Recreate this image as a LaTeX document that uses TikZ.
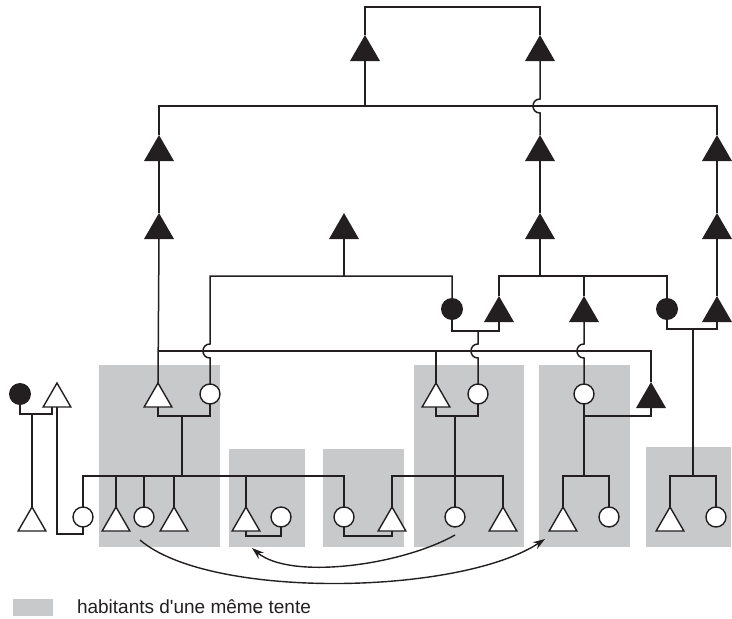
\documentclass[tikz,border=0pt]{standalone}
\usepackage{fontspec}
\setmainfont{Liberation Sans}[Ligatures=TeXOff]
\usetikzlibrary{shapes.geometric,arrows.meta}
\definecolor{tentgray}{RGB}{200,201,203}
\definecolor{ink}{RGB}{35,31,32}
\begin{document}
\begin{tikzpicture}[x=1pt,y=-1pt,line width=1.5pt,
  every node/.style={inner sep=0pt,outer sep=0pt},
  ftri/.style={regular polygon,regular polygon sides=3,minimum size=34.6pt,fill=ink,anchor=south},
  wtri/.style={regular polygon,regular polygon sides=3,minimum size=32pt,draw=ink,line width=1.4pt,fill=white,anchor=south},
  fcirc/.style={circle,minimum size=22pt,fill=ink},
  wcirc/.style={circle,minimum size=20pt,draw=ink,line width=1.4pt,fill=white},
  tent/.style={fill=tentgray,draw=none},
  link/.style={draw=ink,line width=1.5pt},
  kin/.style={draw=ink,line width=1.4pt,-{Stealth[length=12pt,width=8pt]}}]
\useasboundingbox (0,0) rectangle (732,619);
% tents
\fill[tent] (99,365) rectangle (220,547);
\fill[tent] (229,449) rectangle (305,547);
\fill[tent] (323,449) rectangle (404,547);
\fill[tent] (414,365) rectangle (524,547);
\fill[tent] (539,365) rectangle (630,547);
\fill[tent] (646,447) rectangle (731,547);
% levels
\coordinate (y7) at (0,7);
\coordinate (y106) at (0,106);
\coordinate (y276) at (0,276);
\coordinate (y329) at (0,329);
\coordinate (y331) at (0,331);
\coordinate (y351) at (0,351);
\coordinate (y414) at (0,414);
\coordinate (y416) at (0,416);
\coordinate (y476) at (0,476);
\coordinate (y534) at (0,534);
\coordinate (y536) at (0,536);
% generation 0-2
\node[ftri] (A1) at (365,61) {};
\node[ftri] (A2) at (540,61) {};
\node[ftri] (B1) at (159,161) {};
\node[ftri] (B2) at (540,161) {};
\node[ftri] (B3) at (717,161) {};
\node[ftri] (C1) at (159,239) {};
\node[ftri] (M)  at (344,239) {};
\node[ftri] (C2) at (540,239) {};
\node[ftri] (C3) at (717,239) {};
% generation 3
\node[fcirc] (F1) at (452,309) {};
\node[ftri] (F2) at (499,322) {};
\node[ftri] (F3) at (584,322) {};
\node[fcirc] (F4) at (667,309) {};
\node[ftri] (F5) at (717,322) {};
% generation 4
\node[fcirc] (L1) at (20,394) {};
\node[wtri] (L2) at (57,407) {};
\node[wtri] (D1) at (158,407) {};
\node[wcirc] (E1) at (210,394) {};
\node[wtri] (D4) at (436,407) {};
\node[wcirc] (G1) at (478,394) {};
\node[wcirc] (G2) at (584,394) {};
\node[ftri] (D6) at (651,408) {};
% generation 5
\node[wtri] (P1) at (32,531) {};
\node[wcirc] (Q1) at (83,517) {};
\node[wtri] (Q2) at (116,531) {};
\node[wcirc] (Q3) at (144,517) {};
\node[wtri] (Q4) at (174,531) {};
\node[wtri] (Q5) at (246,531) {};
\node[wcirc] (R0) at (281,517) {};
\node[wcirc] (Q6) at (344,517) {};
\node[wtri] (S1) at (392,531) {};
\node[wcirc] (S2) at (455,517) {};
\node[wtri] (S3) at (503,531) {};
\node[wtri] (T1) at (563,531) {};
\node[wcirc] (T2) at (609,517) {};
\node[wtri] (U1) at (670,531) {};
\node[wcirc] (U2) at (716,517) {};
% connectors
\draw[link] (A1.north) |- (A2.north |- y7) -- (A2.north);
\draw[link] (A1.south) -- (A1.south |- y106);
\draw[link] (B1.north) |- (B3.north |- y106) -- (B3.north);
\draw[link] (A2.south) -- (540,99) .. controls (530.67,99) and (530.67,113) .. (540,113) -- (B2.north);
\draw[link] (B1.south) -- (C1.north);
\draw[link] (B2.south) -- (C2.north);
\draw[link] (B3.south) -- (C3.north);
% C1 children
\draw[link] (C1.south) -- (D1.north);
\draw[link] (C1.south |- y351) -| (D6.north);
\draw[link] (D4.north) -- (D4.north |- y351);
% M children
\draw[link] (M.south) -- (M.south |- y276);
\draw[link] (F1.north) |- (210,276) -- (210,344) .. controls (200.67,344) and (200.67,358) .. (210,358) -- (E1.north);
% C2 children
\draw[link] (C2.south) -- (C2.south |- y276);
\draw[link] (F2.north) |- (F4.north |- y276) -- (F4.north);
\draw[link] (F3.north) -- (F3.north |- y276);
\draw[link] (C3.south) -- (F5.north);
% couples of generation 3
\draw[link] (F1.south) |- (F2.south |- y331) -- (F2.south);
\draw[link] (478,331) -- (478,344) .. controls (468.67,344) and (468.67,358) .. (478,358) -- (G1.north);
\draw[link] (F3.south) -- (584,344) .. controls (574.67,344) and (574.67,358) .. (584,358) -- (G2.north);
\draw[link] (F4.south) |- (F5.south |- y329) -- (F5.south);
\draw[link] (693,329) -- (693,476);
\draw[link] (U1.north) |- (U2.north |- y476) -- (U2.north);
% couples of generation 4
\draw[link] (D1.south) |- (E1.south |- y416) -- (E1.south);
\draw[link] (182,416) -- (182,476);
\draw[link] (Q1.north) |- (Q6.north |- y476) -- (Q6.north);
\draw[link] (Q2.north) -- (Q2.north |- y476);
\draw[link] (Q3.north) -- (Q3.north |- y476);
\draw[link] (Q4.north) -- (Q4.north |- y476);
\draw[link] (Q5.north) -- (Q5.north |- y476);
\draw[link] (D4.south) |- (G1.south |- y416) -- (G1.south);
\draw[link] (455,416) -- (S2.north);
\draw[link] (S1.north) |- (S3.north |- y476) -- (S3.north);
\draw[link] (G2.south) |- (D6.south |- y416) -- (D6.south);
\draw[link] (G2.south) -- (G2.south |- y476);
\draw[link] (T1.north) |- (T2.north |- y476) -- (T2.north);
% left couple
\coordinate (L2l) at (52,407);
\draw[link] (L1.south) |- (L2l |- y414) -- (L2l);
\draw[link] (32,414) -- (P1.north);
\draw[link] (L2.south) |- (Q1.south |- y534) -- (Q1.south);
% bottom couples
\draw[link] (Q5.south) |- (R0.south |- y536) -- (R0.south);
\draw[link] (Q6.south) |- (S1.south |- y536) -- (S1.south);
% moves
\coordinate (m1) at (140,540);
\coordinate (m2) at (545,539);
\coordinate (m3) at (455,535);
\coordinate (m4) at (252,548);
\draw[kin] (m1) .. controls (210,600) and (460,595) .. (m2);
\draw[kin] (m3) .. controls (400,566) and (290,580) .. (m4);
% legend
\fill[tent] (13,599) rectangle (53,616);
\node[anchor=base west,text=ink,font=\fontsize{19}{22}\selectfont] (leg) at (77,613) {habitants d'une même tente};
\end{tikzpicture}
\end{document}
